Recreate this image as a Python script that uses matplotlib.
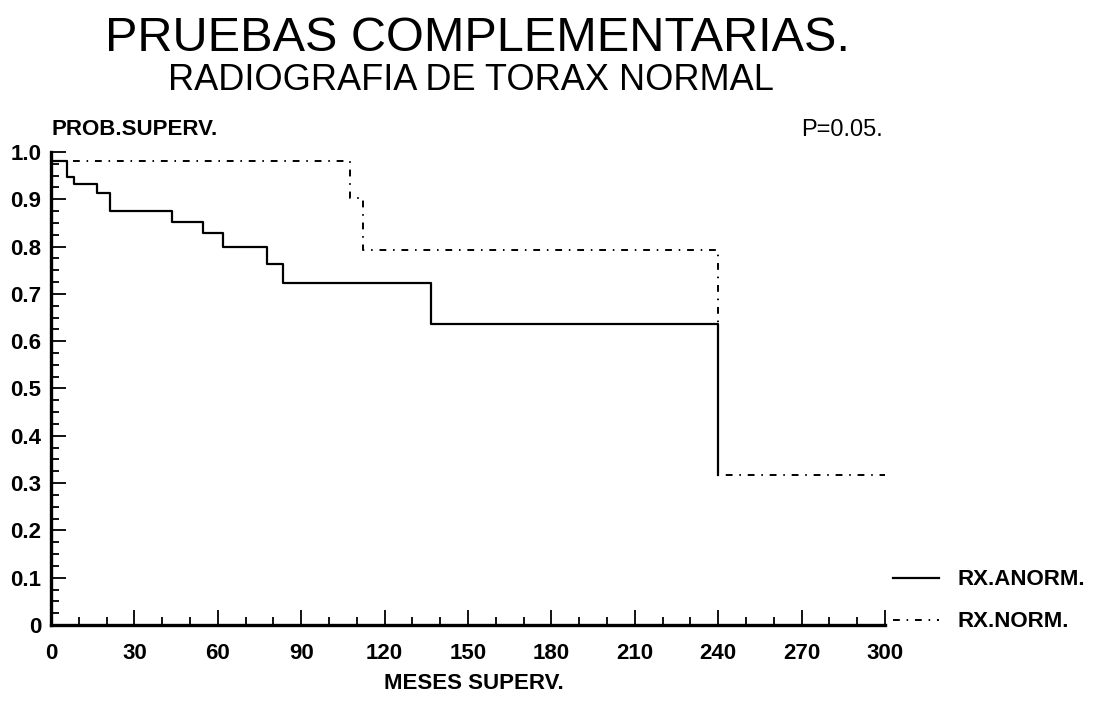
import matplotlib
matplotlib.use("Agg")
import matplotlib.pyplot as plt
from matplotlib.ticker import MultipleLocator

plt.rcParams['font.family'] = ['Liberation Sans', 'DejaVu Sans']

# Curvas de supervivencia (Kaplan-Meier), meses vs probabilidad
anorm_meses = [0, 5.6, 8.2, 16.4, 21.2, 43.4, 54.6, 62, 77.6, 83.6, 136.7, 240]
anorm_prob = [0.98, 0.948, 0.932, 0.913, 0.875, 0.853, 0.829, 0.800, 0.763, 0.724, 0.636, 0.317]

norm_meses = [0, 107.6, 112.3, 240, 300]
norm_prob = [0.98, 0.903, 0.793, 0.317, 0.317]

x_ticks = [0, 30, 60, 90, 120, 150, 180, 210, 240, 270, 300]
y_ticks = [0, 0.1, 0.2, 0.3, 0.4, 0.5, 0.6, 0.7, 0.8, 0.9, 1.0]
y_labels = ["0", "0.1", "0.2", "0.3", "0.4", "0.5", "0.6", "0.7", "0.8", "0.9", "1.0"]

fig = plt.figure(figsize=(11.02, 7.02), dpi=100)
ax = fig.add_axes([0.0463, 0.1097, 0.7568, 0.6738])

ax.step(anorm_meses, anorm_prob, where='post', color='black', lw=1.6,
        label='RX.ANORM.')
ax.step(norm_meses, norm_prob, where='post', color='black', lw=1.4,
        linestyle=(0, (3.5, 3.5, 0.8, 3.5)), label='RX.NORM.')

ax.set_xlim(0, 300)
ax.set_ylim(0, 1.0)
for lado in ['top', 'right']:
    ax.spines[lado].set_visible(False)
for lado in ['left', 'bottom']:
    ax.spines[lado].set_linewidth(2.4)

ax.set_xticks(x_ticks)
ax.set_yticks(y_ticks)
ax.set_yticklabels(y_labels)
ax.xaxis.set_minor_locator(MultipleLocator(10))
ax.yaxis.set_minor_locator(MultipleLocator(0.025))
ax.tick_params(which='major', direction='in', length=11, width=1.3,
               labelsize=16)
ax.tick_params(which='minor', direction='in', length=6, width=1.3)
ax.tick_params(axis='x', pad=13)
ax.tick_params(axis='y', pad=7)
for lbl in ax.get_xticklabels() + ax.get_yticklabels():
    lbl.set_fontweight('bold')

fig.text(0.433, 0.945, "PRUEBAS COMPLEMENTARIAS.", ha='center', va='center',
         fontsize=35)
fig.text(0.427, 0.885, "RADIOGRAFIA DE TORAX NORMAL", ha='center', va='center',
         fontsize=26)
fig.text(0.0463, 0.815, "PROB.SUPERV.", ha='left', va='center', fontsize=16,
         fontweight='bold')
fig.text(0.801, 0.815, "P=0.05.", ha='right', va='center', fontsize=17)
fig.text(0.43, 0.027, "MESES SUPERV.", ha='center', va='center', fontsize=16,
         fontweight='bold')

fig.legend(loc='upper left', bbox_to_anchor=(0.810, 0.189), frameon=False,
           borderpad=0, borderaxespad=0,
           handlelength=2.1, handletextpad=0.8, labelspacing=0.95,
           prop={'weight': 'bold', 'size': 16})

fig.savefig("out.png", dpi=100)
